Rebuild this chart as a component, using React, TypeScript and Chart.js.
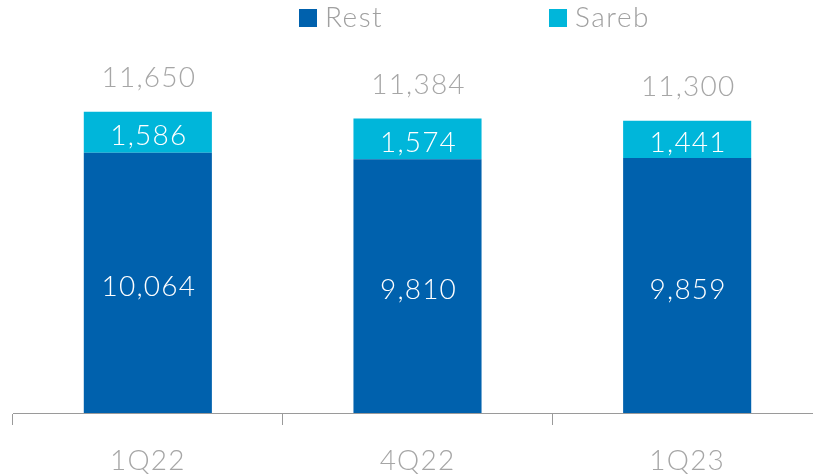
import React, { useEffect, useRef } from "react";
import { Chart, registerables } from "chart.js";

Chart.register(...registerables);

const categories = ["1Q22", "4Q22", "1Q23"];
const restValues = [10064, 9810, 9859];
const sarebValues = [1586, 1574, 1441];
const totals = [11650, 11384, 11300];
const seriesNames = ["Rest", "Sareb"];

const FONT = "Lato, 'Open Sans', sans-serif";
const fmt = (v: number) => v.toLocaleString("en-US");

const spacingPlugin = {
  id: "spacing",
  beforeDraw(chart: any) {
    chart.ctx.letterSpacing = "1.2px";
  },
};

const labelPlugin = {
  id: "valueLabels",
  afterDatasetsDraw(chart: any) {
    const ctx = chart.ctx;
    ctx.save();
    ctx.letterSpacing = "1.2px";
    ctx.textAlign = "center";
    ctx.textBaseline = "middle";
    ctx.font = `300 28px ${FONT}`;
    chart.data.datasets.forEach((ds: any, di: number) => {
      const meta = chart.getDatasetMeta(di);
      meta.data.forEach((bar: any, i: number) => {
        const { x, y, base } = bar.getProps(["x", "y", "base"], true);
        ctx.fillStyle = "#ffffff";
        ctx.fillText(fmt(ds.data[i]), x + 1, (y + base) / 2 + 4);
      });
    });
    const topMeta = chart.getDatasetMeta(chart.data.datasets.length - 1);
    topMeta.data.forEach((bar: any, i: number) => {
      const { x, y } = bar.getProps(["x", "y"], true);
      ctx.fillStyle = "#a6a6a6";
      ctx.fillText(fmt(totals[i]), x + 1, y - 34);
    });
    ctx.restore();
  },
};

const legendPlugin = {
  id: "customLegend",
  afterDraw(chart: any) {
    const ctx = chart.ctx;
    const starts = [299, 549];
    ctx.save();
    ctx.letterSpacing = "1.5px";
    ctx.font = `300 28px ${FONT}`;
    ctx.textBaseline = "middle";
    ctx.textAlign = "left";
    chart.data.datasets.forEach((ds: any, i: number) => {
      const x0 = starts[i];
      ctx.fillStyle = ds.backgroundColor;
      ctx.fillRect(x0, 9, 18, 18);
      ctx.fillStyle = "#a0a0a0";
      ctx.fillText(ds.label, x0 + 26, 18);
    });
    ctx.restore();
  },
};

export default function App() {
  const ref = useRef<HTMLCanvasElement>(null);
  useEffect(() => {
    const chart = new Chart(ref.current!, {
      type: "bar",
      data: {
        labels: categories,
        datasets: [
          {
            label: seriesNames[0],
            data: restValues,
            backgroundColor: "#0061AD",
            borderWidth: 0,
          },
          {
            label: seriesNames[1],
            data: sarebValues,
            backgroundColor: "#00B6DA",
            borderWidth: 0,
          },
        ],
      },
      options: {
        animation: false,
        responsive: false,
        events: [],
        layout: { padding: { left: 13, right: 13, top: 25, bottom: 0 } },
        datasets: {
          bar: { barPercentage: 0.475, categoryPercentage: 1 },
        },
        plugins: {
          legend: { display: false },
          tooltip: { enabled: false },
        },
        scales: {
          x: {
            stacked: true,
            afterFit: (s: any) => {
              s.height = 62;
            },
            border: { display: true, color: "#9a9a9a", width: 1 },
            grid: {
              display: true,
              offset: true,
              drawOnChartArea: false,
              drawTicks: true,
              tickLength: 12,
              color: "#9a9a9a",
            },
            ticks: {
              color: "#a6a6a6",
              padding: 22,
              font: { family: FONT, size: 28, weight: "300", lineHeight: 1 },
            },
          },
          y: {
            stacked: true,
            display: false,
            min: 0,
            max: 15000,
          },
        },
      },
      plugins: [spacingPlugin, labelPlugin, legendPlugin],
    });
    return () => chart.destroy();
  }, []);

  return (
    <div
      style={{
        position: "fixed",
        left: 0,
        top: 0,
        width: 813,
        height: 475,
        overflow: "hidden",
        background: "#fff",
      }}
    >
      <canvas ref={ref} width={835} height={475} style={{ display: "block" }} />
    </div>
  );
}
